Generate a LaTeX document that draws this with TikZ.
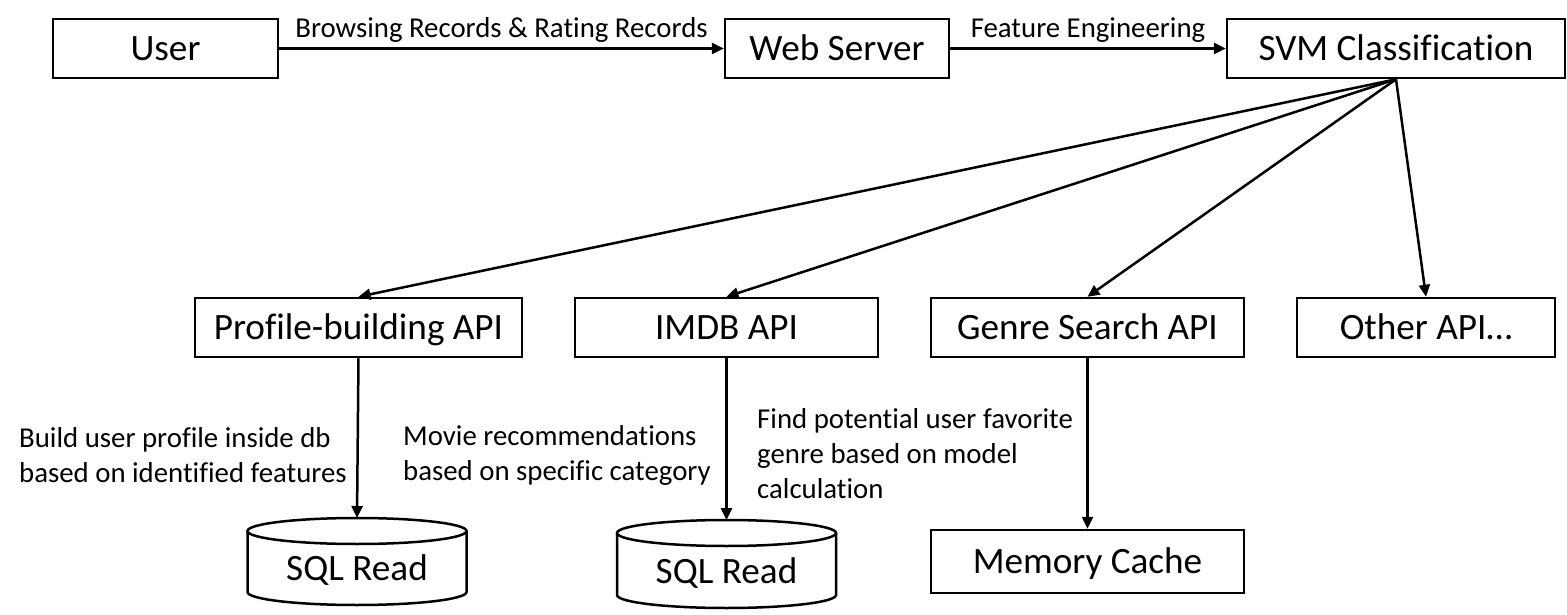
\documentclass[tikz,border=0pt]{standalone}
\usepackage{fontspec}
\setmainfont{Carlito}[Ligatures=NoCommon]
\usetikzlibrary{arrows.meta}
\begin{document}
\begin{tikzpicture}[x=1pt,y=-1pt,
  box/.style={draw, line width=2.5pt, minimum height=59pt, inner sep=0pt, text height=24pt, text depth=0pt, font=\fontsize{37.2}{44}\selectfont},
  conn/.style={line width=2.5pt, -{Triangle[length=12pt,width=11pt]}},
  lbl/.style={font=\fontsize{28.8}{35}\selectfont, inner sep=0pt},
  desc/.style={font=\fontsize{28.8}{35}\selectfont, inner sep=0pt, align=left, anchor=west},
  cyl/.style={line width=2.5pt}]
\useasboundingbox (0,0) rectangle (1567,615);
% top row
\node[box, minimum width=225pt] (user) at (165.5,48.5) {User};
\node[box, minimum width=224pt] (web) at (837,48.5) {Web Server};
\node[box, minimum width=338pt] (svm) at (1396,48.5) {SVM Classification};
% second row
\node[box, minimum width=327pt] (prof) at (358.5,327.5) {Profile-building API};
\node[box, minimum width=303pt] (imdb) at (726.5,327.5) {IMDB API};
\node[box, minimum width=313pt] (genre) at (1087.5,327.5) {Genre Search API};
\node[box, minimum width=258pt] (other) at (1426,327.5) {Other API\ldots};
% memory cache
\node[box, minimum width=313pt, minimum height=63pt] (mem) at (1087.5,561.5) {Memory Cache};
% cylinders
\draw[cyl] (247.5,531) -- (247.5,592) arc[start angle=180,end angle=360,x radius=109.5pt,y radius=13pt] -- (466.5,531);
\draw[cyl] (357,531) ellipse[x radius=109.5pt, y radius=13pt];
\node[box, draw=none] (sql1) at (357,568) {SQL Read};
\coordinate (sql1top) at (357,518);
\draw[cyl] (617,533) -- (617,595) arc[start angle=180,end angle=360,x radius=109.5pt,y radius=13pt] -- (836,533);
\draw[cyl] (726.5,533) ellipse[x radius=109.5pt, y radius=13pt];
\node[box, draw=none] (sql2) at (726.5,571) {SQL Read};
\coordinate (sql2top) at (726.5,520);
% top connectors
\draw[conn] (user) -- (web) node[lbl, midway, above=5pt] {Browsing Records \& Rating Records};
\draw[conn] (web) -- (svm) node[lbl, midway, above=5pt] {Feature Engineering};
% fan out
\draw[conn] (svm.south) -- (prof.north);
\draw[conn] (svm.south) -- (imdb.north);
\draw[conn] (svm.south) -- (genre.north);
\draw[conn] (svm.south) -- (other.north);
% vertical
\draw[conn] (prof.south) -- (sql1top);
\draw[conn] (imdb.south) -- (sql2top);
\draw[conn] (genre.south) -- (mem.north);
% descriptions
\node[desc] (d1) at (19,455) {Build user profile inside db\\based on identified features};
\node[desc] (d2) at (403,455) {Movie recommendations\\based on specific category};
\node[desc] (d3) at (757,454) {Find potential user favorite\\genre based on model\\calculation};
\end{tikzpicture}
\end{document}
